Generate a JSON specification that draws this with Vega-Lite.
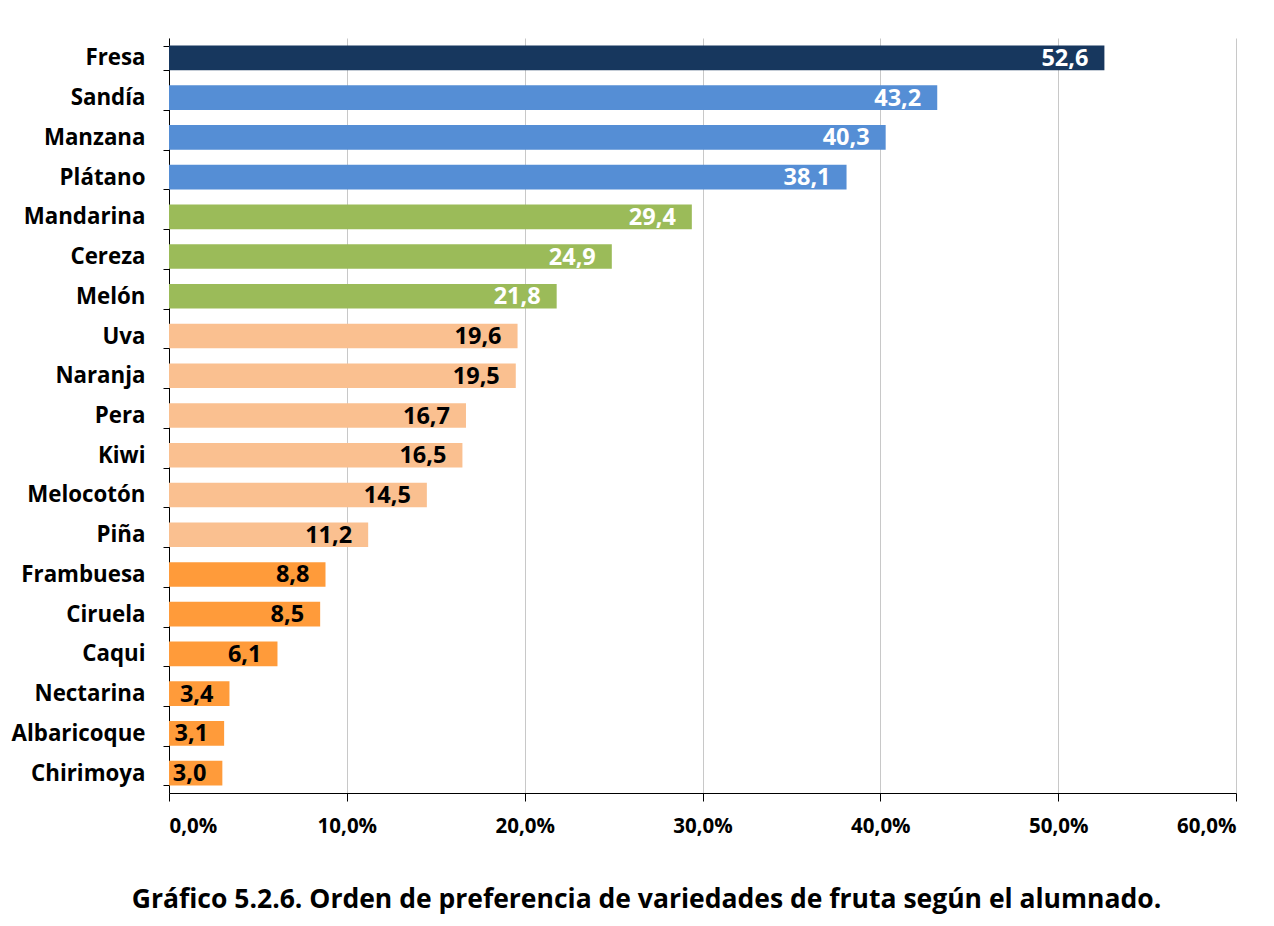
{
  "$schema": "https://vega.github.io/schema/vega-lite/v6.json",
  "width": 1067,
  "height": 755,
  "autosize": {"type": "none"},
  "padding": {"left": 169, "top": 38, "right": 38, "bottom": 133},
  "background": "white",
  "config": {
    "font": "Open Sans",
    "view": {"stroke": null},
    "locale": {"number": {"decimal": ",", "thousands": ".", "grouping": [3], "currency": ["", " €"]}}
  },
  "title": {
    "text": "Gráfico 5.2.6. Orden de preferencia de variedades de fruta según el alumnado.",
    "orient": "bottom",
    "anchor": "middle",
    "font": "Open Sans",
    "fontSize": 26.5,
    "fontWeight": "bold",
    "color": "#000000",
    "offset": 50,
    "dx": -56
  },
  "data": {
    "values": [
      {"fruta": "Fresa", "valor": 52.6, "grupo": 1},
      {"fruta": "Sandía", "valor": 43.2, "grupo": 2},
      {"fruta": "Manzana", "valor": 40.3, "grupo": 2},
      {"fruta": "Plátano", "valor": 38.1, "grupo": 2},
      {"fruta": "Mandarina", "valor": 29.4, "grupo": 3},
      {"fruta": "Cereza", "valor": 24.9, "grupo": 3},
      {"fruta": "Melón", "valor": 21.8, "grupo": 3},
      {"fruta": "Uva", "valor": 19.6, "grupo": 4},
      {"fruta": "Naranja", "valor": 19.5, "grupo": 4},
      {"fruta": "Pera", "valor": 16.7, "grupo": 4},
      {"fruta": "Kiwi", "valor": 16.5, "grupo": 4},
      {"fruta": "Melocotón", "valor": 14.5, "grupo": 4},
      {"fruta": "Piña", "valor": 11.2, "grupo": 4},
      {"fruta": "Frambuesa", "valor": 8.8, "grupo": 5},
      {"fruta": "Ciruela", "valor": 8.5, "grupo": 5},
      {"fruta": "Caqui", "valor": 6.1, "grupo": 5},
      {"fruta": "Nectarina", "valor": 3.4, "grupo": 5},
      {"fruta": "Albaricoque", "valor": 3.1, "grupo": 5},
      {"fruta": "Chirimoya", "valor": 3.0, "grupo": 5}
    ]
  },
  "encoding": {
    "y": {
      "field": "fruta",
      "type": "nominal",
      "sort": null,
      "scale": {"paddingInner": 0.38, "paddingOuter": 0.19},
      "axis": {
        "title": null,
        "domainColor": "#000000",
        "domainWidth": 1,
        "tickColor": "#000000",
        "tickSize": 6,
        "tickBand": "extent",
        "labelFont": "Open Sans",
        "labelFontSize": 22.3,
        "labelFontWeight": "bold",
        "labelColor": "#000000",
        "labelPadding": 18
      }
    },
    "x": {
      "field": "valor",
      "type": "quantitative",
      "scale": {"domain": [0, 60], "nice": false},
      "axis": {
        "title": null,
        "values": [0, 10, 20, 30, 40, 50, 60],
        "labelExpr": "replace(format(datum.value, '.1f'), '.', ',') + '%'",
        "grid": true,
        "gridColor": "#C8C8C8",
        "gridWidth": 1,
        "domainColor": "#000000",
        "tickColor": "#000000",
        "tickSize": 8,
        "labelFont": "Open Sans",
        "labelFontSize": 20.5,
        "labelFontWeight": "bold",
        "labelColor": "#000000",
        "labelPadding": 15
      }
    }
  },
  "layer": [
    {
      "mark": {"type": "bar"},
      "encoding": {
        "color": {
          "field": "grupo",
          "type": "ordinal",
          "scale": {"domain": [1, 2, 3, 4, 5], "range": ["#17375E", "#558ED5", "#9BBB59", "#FAC090", "#FF9B3A"]},
          "legend": null
        }
      }
    },
    {
      "mark": {"type": "text", "align": "right", "baseline": "middle", "dx": -16, "dy": 1, "font": "Open Sans", "fontSize": 23.5, "fontWeight": "bold"},
      "encoding": {
        "text": {"field": "valor", "type": "quantitative", "format": ".1f"},
        "color": {"condition": {"test": "datum.grupo >= 4", "value": "#000000"}, "value": "#FFFFFF"}
      }
    }
  ]
}
